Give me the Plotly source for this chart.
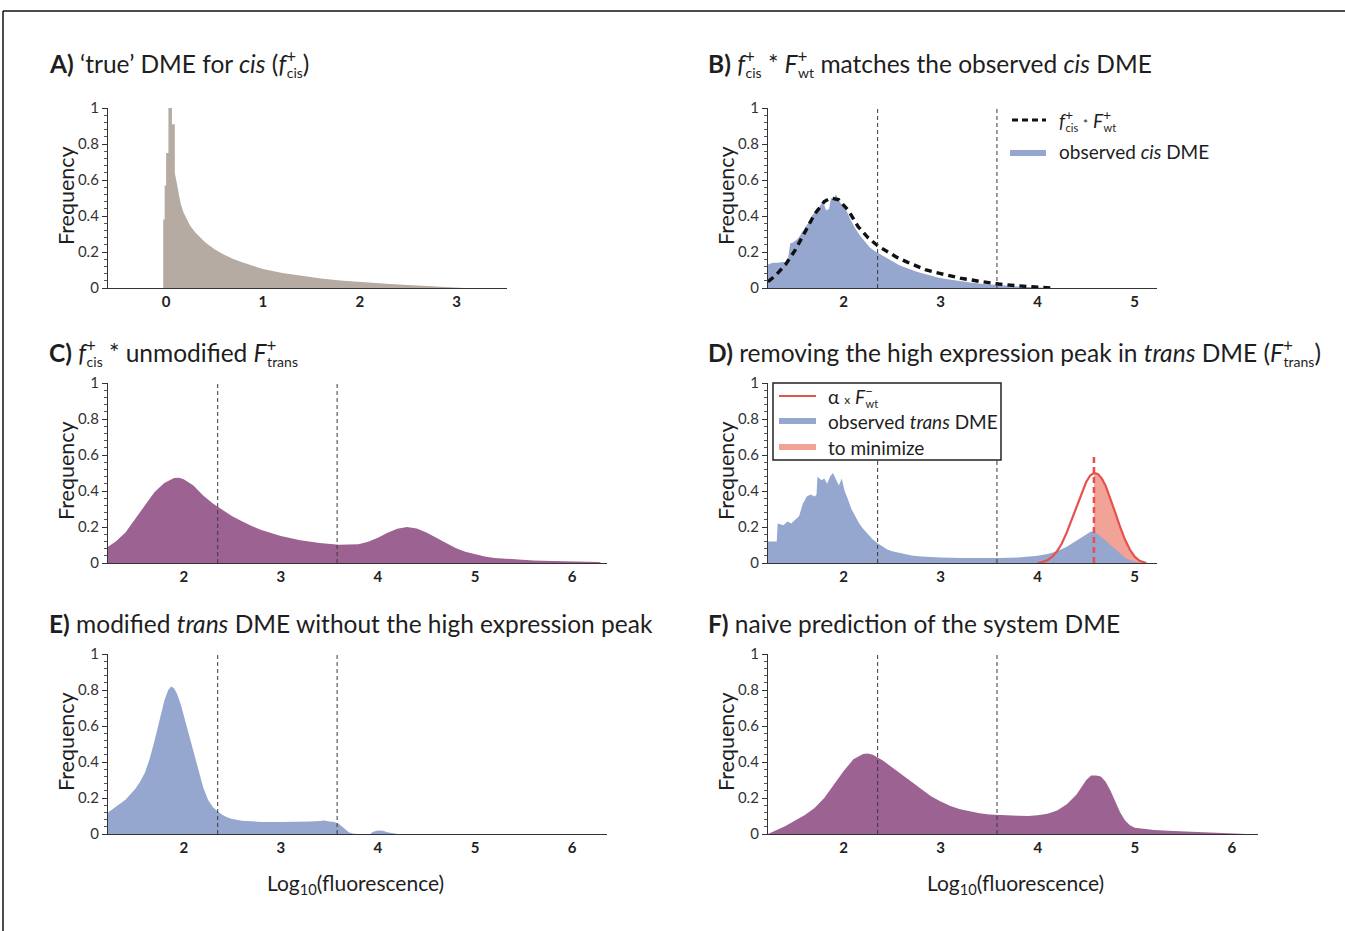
import plotly.graph_objects as go

W, H = 1345, 931

# ---------------- data ----------------
# A) true cis DME: the tall bins around zero, then the long tail
cis_peak_edges = [-0.03, -0.015, 0.0, 0.024, 0.06, 0.09]
cis_peak_heights = [0.38, 0.57, 0.75, 1.00, 0.91]
cis_tail_x = [0.09, 0.11, 0.13, 0.15, 0.18, 0.21, 0.25, 0.30, 0.35, 0.40, 0.45, 0.50,
              0.60, 0.70, 0.80, 0.90, 1.00, 1.20, 1.40, 1.60, 1.80, 2.00, 2.20, 2.40,
              2.60, 2.80, 3.00, 3.07, 3.08]
cis_tail_y = [0.64, 0.58, 0.52, 0.47, 0.42, 0.385, 0.345, 0.31, 0.28, 0.255, 0.235,
              0.215, 0.185, 0.16, 0.14, 0.122, 0.105, 0.083, 0.066, 0.053, 0.042, 0.033,
              0.026, 0.02, 0.015, 0.01, 0.006, 0.004, 0.0]

# B) observed cis DME and f+cis * F+wt
obs_cis_x = [1.22, 1.27, 1.32, 1.37, 1.42, 1.45, 1.47, 1.50, 1.52, 1.55, 1.57, 1.60,
             1.62, 1.65, 1.67, 1.70, 1.72, 1.75, 1.77, 1.80, 1.82, 1.85, 1.87, 1.90,
             1.92, 1.95, 1.97, 2.00, 2.02, 2.07, 2.12, 2.17, 2.22, 2.27, 2.32, 2.37,
             2.42, 2.47, 2.52, 2.57, 2.62, 2.67, 2.72, 2.77, 2.82, 2.87, 2.92, 2.97,
             3.02, 3.12, 3.22, 3.32, 3.42, 3.52, 3.62, 3.72, 3.82, 3.92, 4.02, 4.12]
obs_cis_y = [0.13, 0.14, 0.14, 0.145, 0.14, 0.25, 0.25, 0.26, 0.27, 0.29, 0.31, 0.33,
             0.35, 0.37, 0.40, 0.42, 0.44, 0.45, 0.47, 0.46, 0.43, 0.44, 0.50, 0.49,
             0.52, 0.49, 0.47, 0.46, 0.44, 0.38, 0.33, 0.29, 0.255, 0.225, 0.205, 0.19,
             0.172, 0.157, 0.142, 0.128, 0.117, 0.106, 0.096, 0.087, 0.08, 0.072, 0.065,
             0.058, 0.053, 0.044, 0.036, 0.029, 0.023, 0.018, 0.014, 0.01, 0.007, 0.005,
             0.003, 0.0]
conv_cis_x = [1.22, 1.30, 1.40, 1.50, 1.60, 1.70, 1.80, 1.87, 1.95, 2.05, 2.15, 2.25,
              2.35, 2.45, 2.55, 2.65, 2.75, 2.85, 3.00, 3.20, 3.40, 3.60, 3.80, 4.00, 4.15]
conv_cis_y = [0.035, 0.07, 0.13, 0.21, 0.31, 0.41, 0.48, 0.50, 0.49, 0.43, 0.34, 0.28,
              0.235, 0.20, 0.17, 0.145, 0.12, 0.10, 0.08, 0.055, 0.037, 0.022, 0.012,
              0.005, 0.0]

# C) f+cis * unmodified F+trans
unmod_x = [1.22, 1.3, 1.4, 1.5, 1.6, 1.7, 1.8, 1.9, 1.95, 2.0, 2.1, 2.2, 2.3, 2.4, 2.5,
           2.6, 2.7, 2.8, 2.9, 3.0, 3.2, 3.4, 3.6, 3.7, 3.8, 3.9, 4.0, 4.1, 4.2, 4.3,
           4.4, 4.5, 4.6, 4.7, 4.8, 4.9, 5.0, 5.1, 5.2, 5.4, 5.6, 5.8, 6.0, 6.2, 6.28, 6.3]
unmod_y = [0.09, 0.12, 0.17, 0.245, 0.32, 0.395, 0.445, 0.472, 0.474, 0.465, 0.43,
           0.375, 0.33, 0.295, 0.26, 0.232, 0.205, 0.183, 0.165, 0.15, 0.127, 0.111,
           0.102, 0.101, 0.104, 0.118, 0.14, 0.168, 0.19, 0.20, 0.192, 0.17, 0.14, 0.11,
           0.083, 0.062, 0.047, 0.036, 0.028, 0.019, 0.014, 0.011, 0.009, 0.007, 0.005, 0.0]

# D) observed trans DME and scaled wild-type F-
obs_trans_x = [1.22, 1.31, 1.32, 1.38, 1.42, 1.46, 1.50, 1.54, 1.58, 1.62, 1.66, 1.70,
               1.72, 1.73, 1.77, 1.80, 1.83, 1.86, 1.89, 1.92, 1.95, 1.98, 2.01, 2.04,
               2.08, 2.12, 2.16, 2.20, 2.25, 2.30, 2.35, 2.40, 2.45, 2.50, 2.60, 2.70,
               2.80, 2.90, 3.00, 3.20, 3.40, 3.60, 3.80, 3.90, 4.00, 4.10, 4.20, 4.30,
               4.40, 4.50, 4.55, 4.60, 4.65, 4.70, 4.75, 4.80, 4.85, 4.90, 4.95, 5.00, 5.07]
obs_trans_y = [0.12, 0.12, 0.22, 0.21, 0.23, 0.22, 0.24, 0.26, 0.33, 0.37, 0.38, 0.37,
               0.38, 0.48, 0.46, 0.47, 0.44, 0.48, 0.50, 0.46, 0.43, 0.47, 0.40, 0.36,
               0.30, 0.26, 0.22, 0.19, 0.16, 0.13, 0.11, 0.09, 0.075, 0.065, 0.052, 0.042,
               0.036, 0.032, 0.03, 0.028, 0.027, 0.028, 0.031, 0.035, 0.04, 0.05, 0.065,
               0.09, 0.125, 0.16, 0.175, 0.17, 0.15, 0.125, 0.10, 0.075, 0.05, 0.03,
               0.015, 0.007, 0.0]
wt_minus_x = [4.0, 4.05, 4.1, 4.15, 4.2, 4.25, 4.3, 4.35, 4.4, 4.45, 4.5, 4.54, 4.58,
              4.62, 4.66, 4.7, 4.75, 4.8, 4.85, 4.9, 4.95, 5.0, 5.05, 5.1, 5.12]
wt_minus_y = [0.0, 0.005, 0.015, 0.035, 0.065, 0.11, 0.17, 0.24, 0.315, 0.39, 0.45,
              0.485, 0.50, 0.495, 0.47, 0.43, 0.36, 0.28, 0.2, 0.13, 0.075, 0.035,
              0.012, 0.003, 0.0]
peak_center = 4.58

# E) modified trans DME
mod_trans_x = [1.22, 1.3, 1.4, 1.5, 1.55, 1.6, 1.65, 1.7, 1.75, 1.8, 1.84, 1.87, 1.9,
               1.93, 1.97, 2.0, 2.05, 2.1, 2.15, 2.2, 2.25, 2.3, 2.35, 2.4, 2.45, 2.5,
               2.6, 2.7, 2.8, 3.0, 3.1, 3.2, 3.3, 3.4, 3.45, 3.5, 3.55, 3.6, 3.65, 3.7,
               3.75, 3.8, 3.92, 3.95, 4.0, 4.05, 4.1, 4.15, 4.2]
mod_trans_y = [0.12, 0.15, 0.19, 0.25, 0.29, 0.34, 0.42, 0.52, 0.63, 0.74, 0.80, 0.82,
               0.81, 0.78, 0.72, 0.66, 0.56, 0.45, 0.35, 0.26, 0.19, 0.15, 0.125, 0.105,
               0.092, 0.083, 0.074, 0.07, 0.067, 0.066, 0.066, 0.068, 0.07, 0.072, 0.075,
               0.07, 0.066, 0.055, 0.03, 0.01, 0.002, 0.0, 0.0, 0.012, 0.02, 0.018, 0.01,
               0.003, 0.0]

# F) naive system DME prediction
system_x = [1.22, 1.3, 1.4, 1.5, 1.6, 1.7, 1.8, 1.9, 2.0, 2.1, 2.2, 2.25, 2.3, 2.4,
            2.5, 2.6, 2.7, 2.8, 2.9, 3.0, 3.1, 3.2, 3.3, 3.4, 3.5, 3.6, 3.7, 3.8, 3.9,
            4.0, 4.1, 4.2, 4.3, 4.4, 4.45, 4.5, 4.55, 4.6, 4.65, 4.7, 4.75, 4.8, 4.85,
            4.9, 4.95, 5.0, 5.1, 5.2, 5.4, 5.6, 5.8, 6.0, 6.1, 6.15]
system_y = [0.0, 0.02, 0.045, 0.075, 0.105, 0.145, 0.2, 0.275, 0.35, 0.415, 0.445,
            0.447, 0.44, 0.41, 0.37, 0.33, 0.285, 0.245, 0.21, 0.18, 0.155, 0.137,
            0.124, 0.115, 0.109, 0.105, 0.103, 0.101, 0.1, 0.104, 0.113, 0.13, 0.165,
            0.22, 0.26, 0.3, 0.325, 0.325, 0.32, 0.29, 0.24, 0.18, 0.12, 0.075, 0.048,
            0.035, 0.027, 0.022, 0.016, 0.012, 0.009, 0.006, 0.003, 0.0]

gate_bounds = [2.35, 3.58]
x_ticks_a = [0, 1, 2, 3]
x_ticks_bd = [2, 3, 4, 5]
x_ticks_wide = [2, 3, 4, 5, 6]

# ---------------- styling ----------------
TAUPE = "#b5aba3"
BLUE = "#95a6cf"
PURPLE = "#9b6292"
RED = "#e5514b"
SALMON = "#f2a397"
INK = "#1e1e1e"
AXIS = "#333333"
FONT = "Lato"


def px(x):
    return x / W


def py(y):
    return 1 - y / H


# panel boxes in pixels: (left, right, top, bottom) and x range
panels = {
    "A": dict(box=(108, 507, 108, 288), xr=[-0.6, 3.52], ticks=x_ticks_a),
    "B": dict(box=(768, 1157, 108, 288), xr=[1.22, 5.23], ticks=x_ticks_bd),
    "C": dict(box=(108, 607, 383, 563), xr=[1.22, 6.36], ticks=x_ticks_wide),
    "D": dict(box=(768, 1157, 383, 563), xr=[1.22, 5.23], ticks=x_ticks_bd),
    "E": dict(box=(108, 607, 654, 834), xr=[1.22, 6.36], ticks=x_ticks_wide),
    "F": dict(box=(768, 1258, 654, 834), xr=[1.22, 6.27], ticks=x_ticks_wide),
}
order = ["A", "B", "C", "D", "E", "F"]

fig = go.Figure()
layout = {}
axref = {}
for i, key in enumerate(order, start=1):
    p = panels[key]
    l, r, t, b = p["box"]
    sx = "" if i == 1 else str(i)
    axref[key] = ("x" + sx, "y" + sx)
    layout["xaxis" + sx] = dict(
        domain=[px(l), px(r)], anchor="y" + sx, range=p["xr"], automargin=False,
        showline=True, linecolor=AXIS, linewidth=1.3, ticks="",
        showgrid=False, zeroline=False, tickmode="array", tickvals=p["ticks"],
        tickfont=dict(family=FONT, size=15, color="#222", weight="bold"),
        fixedrange=True,
    )
    layout["yaxis" + sx] = dict(
        domain=[py(b), py(t)], anchor="x" + sx, range=[0, 1], automargin=False,
        showline=True, linecolor=AXIS, linewidth=1.3,
        ticks="outside", ticklen=5, tickwidth=1, tickcolor=AXIS,
        tickmode="linear", tick0=0, dtick=0.2,
        minor=dict(ticks="outside", ticklen=2.5, tickwidth=0.8, tickcolor="#555",
                   dtick=0.04, tick0=0),
        showgrid=False, zeroline=False,
        tickfont=dict(family=FONT, size=15, color="#333"),
        fixedrange=True,
    )


def area(key, x, y, color, shape="linear"):
    xa, ya = axref[key]
    fig.add_trace(go.Scatter(x=x, y=y, xaxis=xa, yaxis=ya, mode="lines",
                             line=dict(width=0, color=color, shape=shape),
                             fill="tozeroy", fillcolor=color, hoverinfo="skip"))


# A: step outline of the peak bins joined to the tail
a_x, a_y = [], []
for k, h in enumerate(cis_peak_heights):
    a_x += [cis_peak_edges[k], cis_peak_edges[k + 1]]
    a_y += [h, h]
area("A", a_x + cis_tail_x, a_y + cis_tail_y, TAUPE)

# B
area("B", obs_cis_x, obs_cis_y, BLUE)
fig.add_trace(go.Scatter(x=conv_cis_x, y=conv_cis_y, xaxis="x2", yaxis="y2",
                         mode="lines", line=dict(color="#111", width=3.4, dash="7px,5px"),
                         hoverinfo="skip"))

# C
area("C", unmod_x, unmod_y, PURPLE)

# D: area to minimize (right of the peak), observed trans DME, scaled F-wt
right_x = [x for x in wt_minus_x if x >= peak_center]
right_y = [y for x, y in zip(wt_minus_x, wt_minus_y) if x >= peak_center]
area("D", right_x, right_y, SALMON)
area("D", obs_trans_x, obs_trans_y, BLUE)
fig.add_trace(go.Scatter(x=wt_minus_x, y=wt_minus_y, xaxis="x4", yaxis="y4",
                         mode="lines", line=dict(color=RED, width=2.2),
                         hoverinfo="skip"))

# E, F
area("E", mod_trans_x, mod_trans_y, BLUE)
area("F", system_x, system_y, PURPLE)

shapes = []
# gate boundaries
for key in ["B", "C", "D", "E", "F"]:
    xa, ya = axref[key]
    for g in gate_bounds:
        shapes.append(dict(type="line", xref=xa, yref=ya, x0=g, x1=g, y0=0, y1=1,
                           line=dict(color="#3a3a3a", width=1, dash="4px,3px")))
shapes.append(dict(type="line", xref="x4", yref="y4", x0=peak_center, x1=peak_center,
                   y0=0, y1=0.6, line=dict(color=RED, width=2.6, dash="6px,4px")))

# outer frame
shapes.append(dict(type="line", xref="paper", yref="paper", x0=px(3), x1=1,
                   y0=py(11), y1=py(11), line=dict(color="#111", width=1.5)))
shapes.append(dict(type="line", xref="paper", yref="paper", x0=px(3), x1=px(3),
                   y0=py(11), y1=0, line=dict(color="#111", width=1.5)))

# legend of panel B
shapes.append(dict(type="line", xref="paper", yref="paper", x0=px(1012), x1=px(1046),
                   y0=py(120), y1=py(120), line=dict(color="#111", width=3, dash="6px,4px")))
shapes.append(dict(type="rect", xref="paper", yref="paper", x0=px(1010), x1=px(1046),
                   y0=py(156), y1=py(150), fillcolor=BLUE, line=dict(width=0)))

# legend of panel D
shapes.append(dict(type="rect", xref="paper", yref="paper", x0=px(773), x1=px(1001),
                   y0=py(460), y1=py(383), fillcolor="white",
                   line=dict(color="#222", width=1.5)))
shapes.append(dict(type="line", xref="paper", yref="paper", x0=px(779), x1=px(816),
                   y0=py(396), y1=py(396), line=dict(color=RED, width=2)))
shapes.append(dict(type="rect", xref="paper", yref="paper", x0=px(779), x1=px(816),
                   y0=py(424), y1=py(418), fillcolor=BLUE, line=dict(width=0)))
shapes.append(dict(type="rect", xref="paper", yref="paper", x0=px(779), x1=px(816),
                   y0=py(450), y1=py(444), fillcolor=SALMON, line=dict(width=0)))


def stack(sup, sub, sup_px, sub_px):
    """Superscript placed over the following subscript."""
    return ('<sup><span style="font-size:%dpx;letter-spacing:-0.55em">%s</span></sup>'
            '<sub><span style="font-size:%dpx">%s</span></sub>' % (sup_px, sup, sub_px, sub))


def tstack(sup, sub):
    return stack(sup, sub, 17, 14)


def lstack(sup, sub):
    return stack(sup, sub, 14, 11)


titles = {
    "A": (47, 63, "<b>A)</b> \u2018true\u2019 DME for <i>cis</i> (<i>f</i>" + tstack("+", "cis") + ")"),
    "B": (706, 63, "<b>B)</b> <i>f</i>" + tstack("+", "cis") + " * <i>F</i>" + tstack("+", "wt")
         + " matches the observed <i>cis</i> DME"),
    "C": (47, 352, "<b>C)</b> <i>f</i>" + tstack("+", "cis") + " * unmodified <i>F</i>"
         + tstack("+", "trans")),
    "D": (706, 352, "<b>D)</b> removing the high expression peak in <i>trans</i> DME (<i>F</i>"
          + tstack("+", "trans") + ")"),
    "E": (47, 623, "<b>E)</b> modified <i>trans</i> DME without the high expression peak"),
    "F": (706, 623, "<b>F)</b> naive prediction of the system DME"),
}

annotations = []
for key, (x, y, text) in titles.items():
    annotations.append(dict(xref="paper", yref="paper", x=px(x), y=py(y), xanchor="left",
                            yanchor="middle", text=text, showarrow=False,
                            font=dict(family=FONT, size=24.5, color=INK)))

for key in order:
    l, r, t, b = panels[key]["box"]
    annotations.append(dict(xref="paper", yref="paper", x=px(l - 42), y=py((t + b) / 2 - 2),
                            text="Frequency", textangle=-90, showarrow=False,
                            xanchor="center", yanchor="middle",
                            font=dict(family=FONT, size=21.5, color=INK)))

for cx in (355, 1015):
    annotations.append(dict(xref="paper", yref="paper", x=px(cx), y=py(884),
                            text="Log<sub>10</sub>(fluorescence)", showarrow=False,
                            xanchor="center", yanchor="middle",
                            font=dict(family=FONT, size=21, color=INK)))

legend_font = dict(family=FONT, size=19, color=INK)
legend_rows = [
    (1057, 120, "<i>f</i>" + lstack("+", "cis") + " <span style=\"font-size:12px\">*</span> <i>F</i>"
     + lstack("+", "wt")),
    (1057, 152, "observed <i>cis</i> DME"),
    (826, 396, "\u03b1 <span style=\"font-size:12px\">x</span> <i>F</i>" + lstack("\u2013", "wt")),
    (826, 421, "observed <i>trans</i> DME"),
    (826, 447, "to minimize"),
]
for x, y, text in legend_rows:
    annotations.append(dict(xref="paper", yref="paper", x=px(x), y=py(y), xanchor="left",
                            yanchor="middle", text=text, showarrow=False, font=legend_font))

fig.update_layout(
    template="none", autosize=False,
    width=W, height=H, margin=dict(l=0, r=0, t=0, b=0, pad=0, autoexpand=False),
    paper_bgcolor="white", plot_bgcolor="white", showlegend=False,
    font=dict(family=FONT, color=INK),
    shapes=shapes, annotations=annotations, **layout,
)

fig.write_html("out.html",
               post_script="document.body.style.margin='0px';"
                           "document.body.style.overflow='hidden';")
